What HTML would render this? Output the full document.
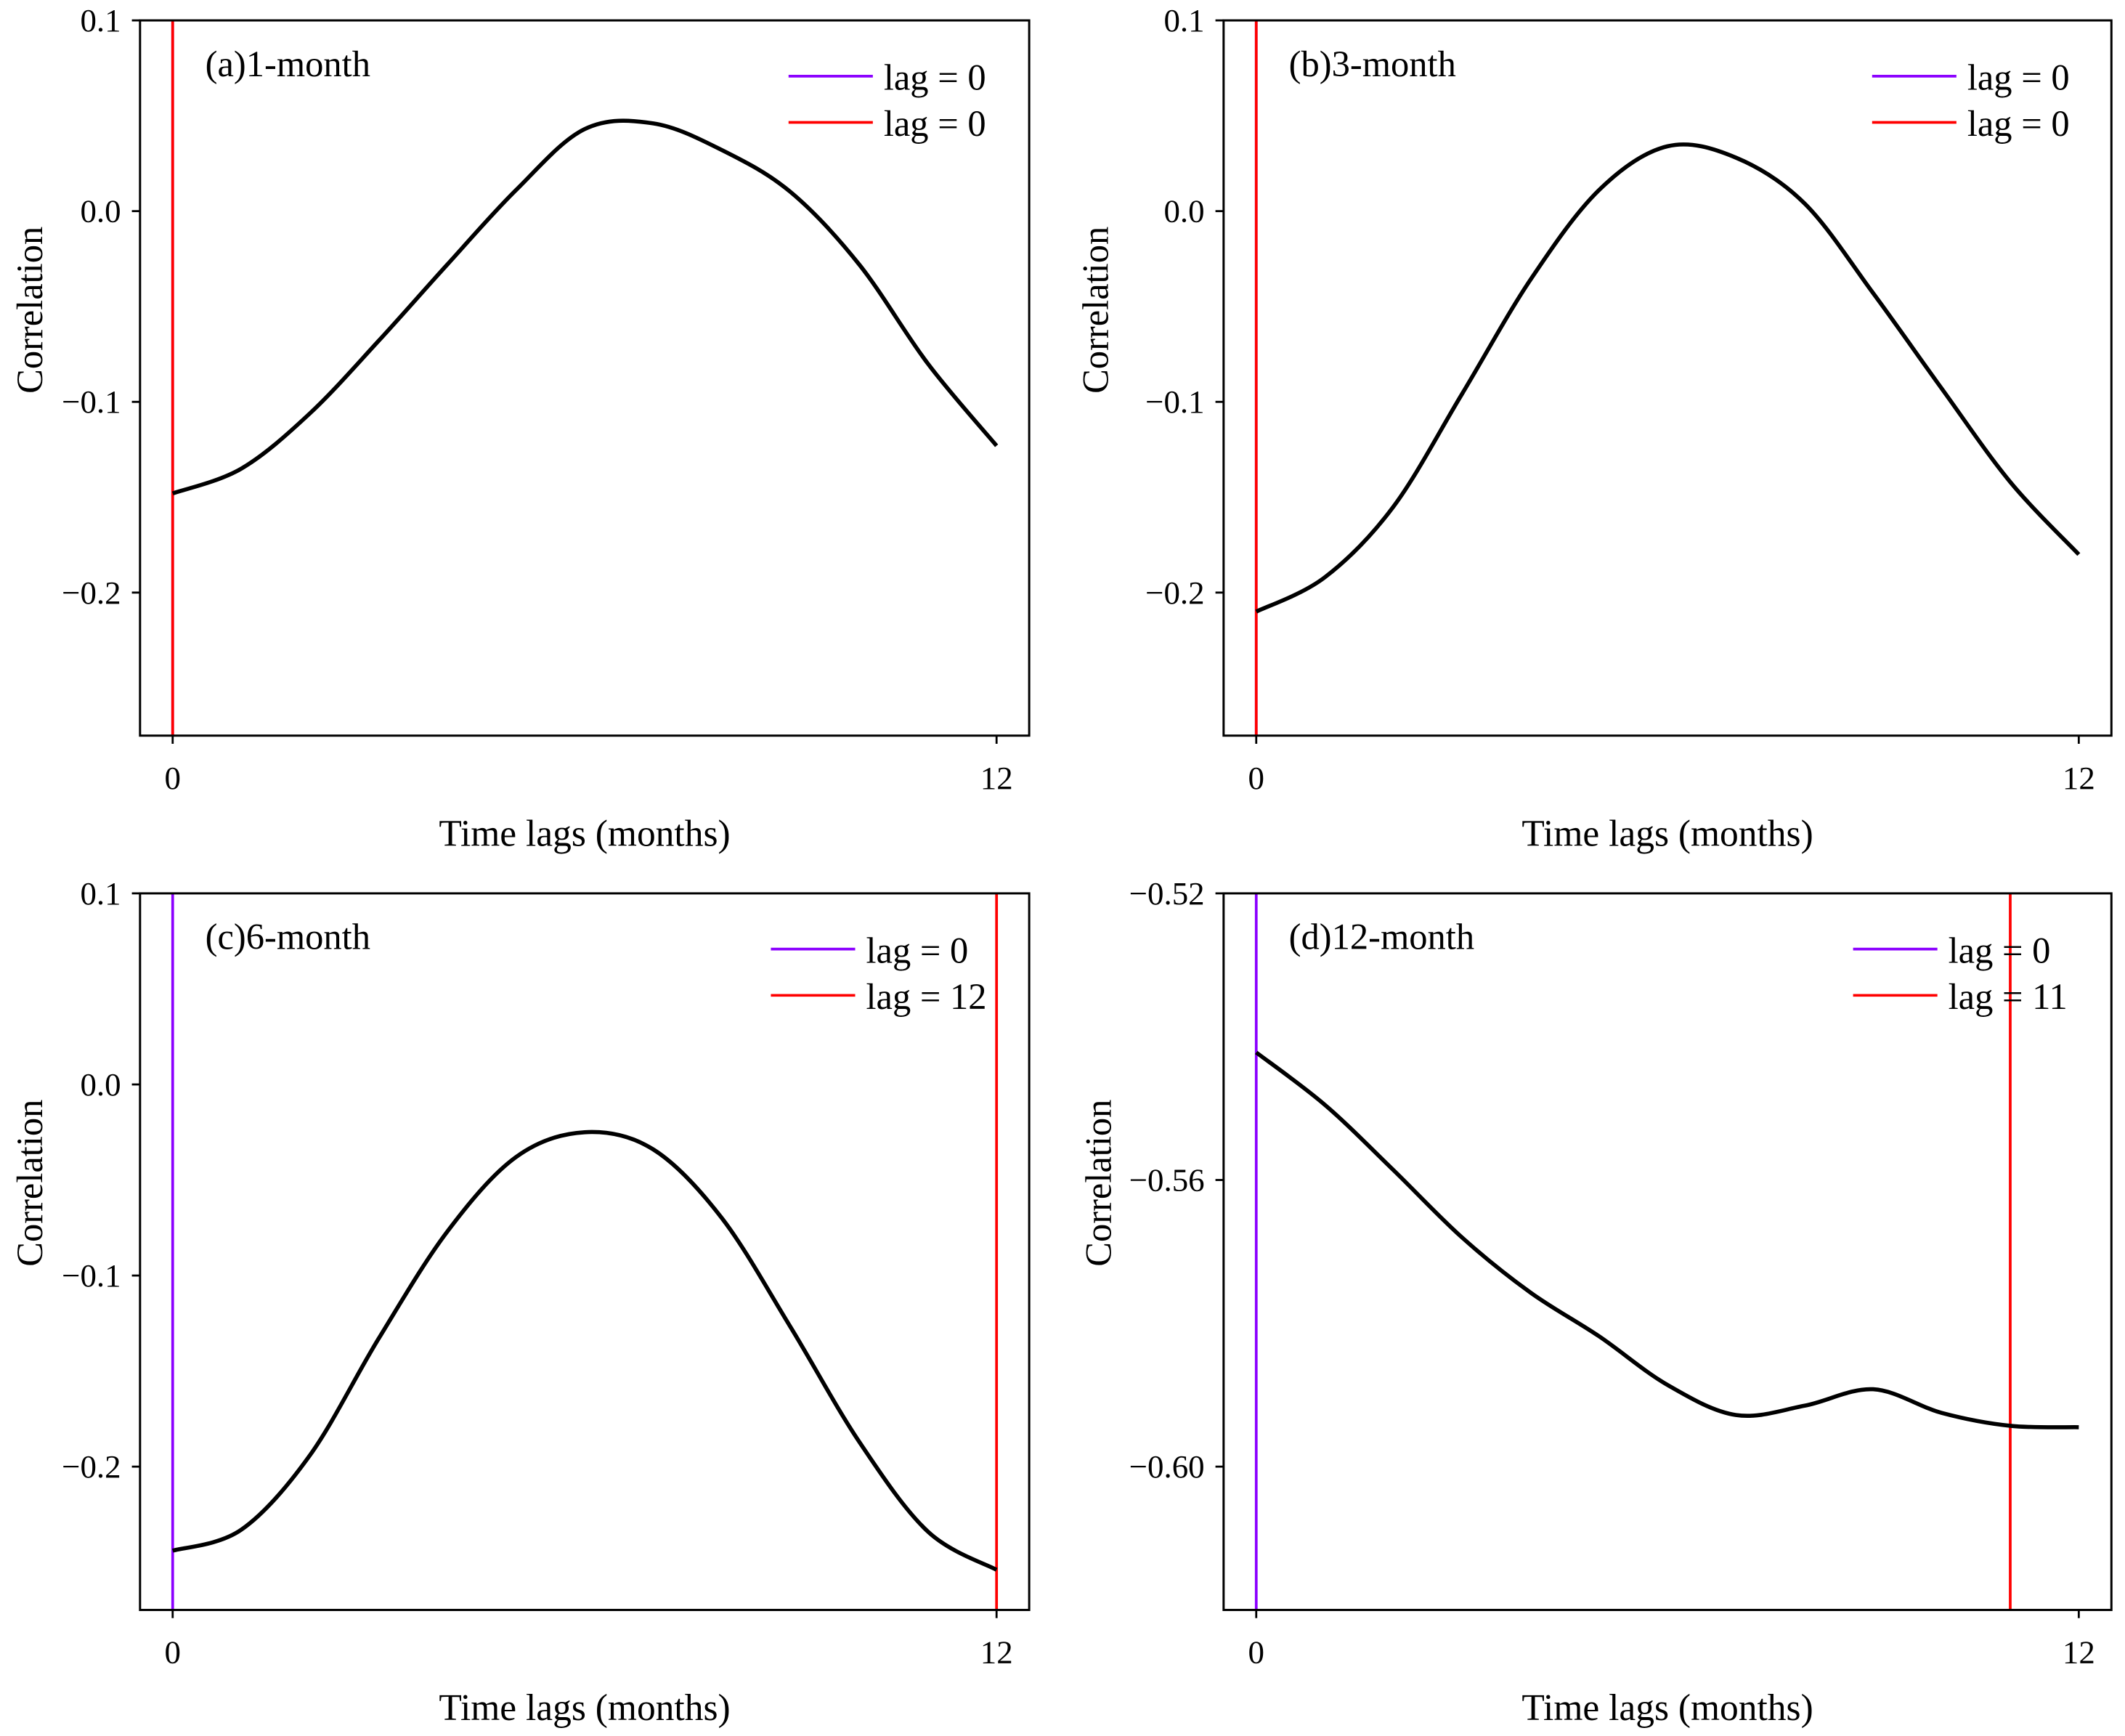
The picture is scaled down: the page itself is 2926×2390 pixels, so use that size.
<!DOCTYPE html>
<html><head><meta charset="utf-8"><style>
html,body{margin:0;padding:0;background:#fff}
svg{display:block}
text{font-family:"Liberation Serif",serif;fill:#000}
</style></head><body>
<svg id="chart" width="2926" height="2390" viewBox="0 0 1563 1276.7" preserveAspectRatio="none" xmlns="http://www.w3.org/2000/svg"></svg>
<script>
const lags = [0,1,2,3,4,5,6,7,8,9,10,11,12];
const seriesA = [-0.148,-0.135,-0.106,-0.068,-0.028,0.011,0.043,0.046,0.032,0.010,-0.028,-0.080,-0.123];
const seriesB = [-0.210,-0.192,-0.155,-0.096,-0.036,0.011,0.034,0.028,0.004,-0.043,-0.093,-0.142,-0.180];
const seriesC = [-0.244,-0.233,-0.194,-0.133,-0.077,-0.038,-0.025,-0.034,-0.070,-0.127,-0.187,-0.234,-0.254];
const seriesD = [-0.5422,-0.5495,-0.5586,-0.568,-0.5757,-0.5818,-0.5886,-0.5928,-0.5915,-0.5892,-0.5925,-0.5943,-0.5945];
const yTicksTop = [0.1,0.0,-0.1,-0.2];
const yTickLabelsTop = ["0.1","0.0","\u22120.1","\u22120.2"];
const yTicksD = [-0.52,-0.56,-0.60];
const yTickLabelsD = ["\u22120.52","\u22120.56","\u22120.60"];
const xTicks = [0,12];
const titles = ["(a)1-month","(b)3-month","(c)6-month","(d)12-month"];
const legendA = ["lag = 0","lag = 0"];
const legendB = ["lag = 0","lag = 0"];
const legendC = ["lag = 0","lag = 12"];
const legendD = ["lag = 0","lag = 11"];
const redLag = [0,0,12,11];
const purpleLag = [0,0,0,0];

const NS="http://www.w3.org/2000/svg";
const svg=document.getElementById('chart');
function mk(tag,attrs,parent){const e=document.createElementNS(NS,tag);for(const k in attrs)e.setAttribute(k,attrs[k]);(parent||svg).appendChild(e);return e;}

const panels=[
 {L:103,R:757,T:15,B:541,y0:0.1,y1:-0.275,data:seriesA,ticks:yTicksTop,tl:yTickLabelsTop,leg:legendA,legX:580,ylx:22},
 {L:900,R:1553,T:15,B:541,y0:0.1,y1:-0.275,data:seriesB,ticks:yTicksTop,tl:yTickLabelsTop,leg:legendB,legX:1377,ylx:806},
 {L:103,R:757,T:657,B:1184,y0:0.1,y1:-0.275,data:seriesC,ticks:yTicksTop,tl:yTickLabelsTop,leg:legendC,legX:567,ylx:22},
 {L:900,R:1553,T:657,B:1184,y0:-0.52,y1:-0.62,data:seriesD,ticks:yTicksD,tl:yTickLabelsD,leg:legendD,legX:1363,ylx:808}
];
const x0off=24, x12off=24;

panels.forEach((p,i)=>{
 const g=mk('g',{});
 
 
 const xs=v=>p.L+x0off+(v/12)*((p.R-x12off)-(p.L+x0off));
 const ys=v=>p.T+(p.y0-v)/(p.y0-p.y1)*(p.B-p.T);
 const pl=mk('line',{x1:xs(purpleLag[i]),x2:xs(purpleLag[i]),y1:p.T,y2:p.B,stroke:'#8b00ff','stroke-width':2},g);
 
 
 const rl=mk('line',{x1:xs(redLag[i]),x2:xs(redLag[i]),y1:p.T,y2:p.B,stroke:'#ff0000','stroke-width':2},g);
 
 
 const pts=lags.map((l,k)=>[xs(l),ys(p.data[k])]);
 let d='M'+pts[0][0]+','+pts[0][1];
 for(let k=0;k<pts.length-1;k++){
  const a=pts[k-1]||pts[k],b=pts[k],c=pts[k+1],e=pts[k+2]||c;
  d+=' C'+(b[0]+(c[0]-a[0])/6)+','+(b[1]+(c[1]-a[1])/6)+' '+(c[0]-(e[0]-b[0])/6)+','+(c[1]-(e[1]-b[1])/6)+' '+c[0]+','+c[1];
 }
 const cv=mk('path',{d:d,fill:'none',stroke:'#000','stroke-width':3},g);
 
 
 const fr=mk('rect',{x:p.L,y:p.T,width:p.R-p.L,height:p.B-p.T,fill:'none',stroke:'#000','stroke-width':1.6},g);
 
 
 p.ticks.forEach((t,k)=>{
  mk('line',{x1:p.L-6,x2:p.L,y1:ys(t),y2:ys(t),stroke:'#000','stroke-width':1.5},g);
  const tx=mk('text',{x:p.L-14,y:ys(t)+8,'text-anchor':'end','font-size':24},g);
  tx.textContent=p.tl[k];
  
  
 });
 xTicks.forEach(t=>{
  mk('line',{x1:xs(t),x2:xs(t),y1:p.B,y2:p.B+6,stroke:'#000','stroke-width':1.5},g);
  const tx=mk('text',{x:xs(t),y:p.B+39,'text-anchor':'middle','font-size':24},g);
  tx.textContent=String(t);
  
  
 });
 const xl=mk('text',{x:(p.L+p.R)/2,y:p.B+81,'text-anchor':'middle','font-size':27.5},g);
 xl.textContent='Time lags (months)';
 
 
 const yc=p.T+213;
 const yl=mk('text',{x:p.ylx+9,y:yc,'text-anchor':'middle','font-size':27,transform:'rotate(-90 '+(p.ylx+9)+' '+yc+')'},g);
 yl.textContent='Correlation';
 
 
 const ti=mk('text',{x:p.L+48,y:p.T+41,'font-size':27},g);
 ti.textContent=titles[i];
 
 
 const cols=['#8b00ff','#ff0000'];
 p.leg.forEach((s,k)=>{
  const ly=p.T+41+k*34;
  const ll=mk('line',{x1:p.legX,x2:p.legX+62,y1:ly,y2:ly,stroke:cols[k],'stroke-width':2},g);
  
  
  const lt=mk('text',{x:p.legX+70,y:ly+10,'font-size':27},g);
  lt.textContent=s;
  
  
 });
});
</script>
</body></html>
